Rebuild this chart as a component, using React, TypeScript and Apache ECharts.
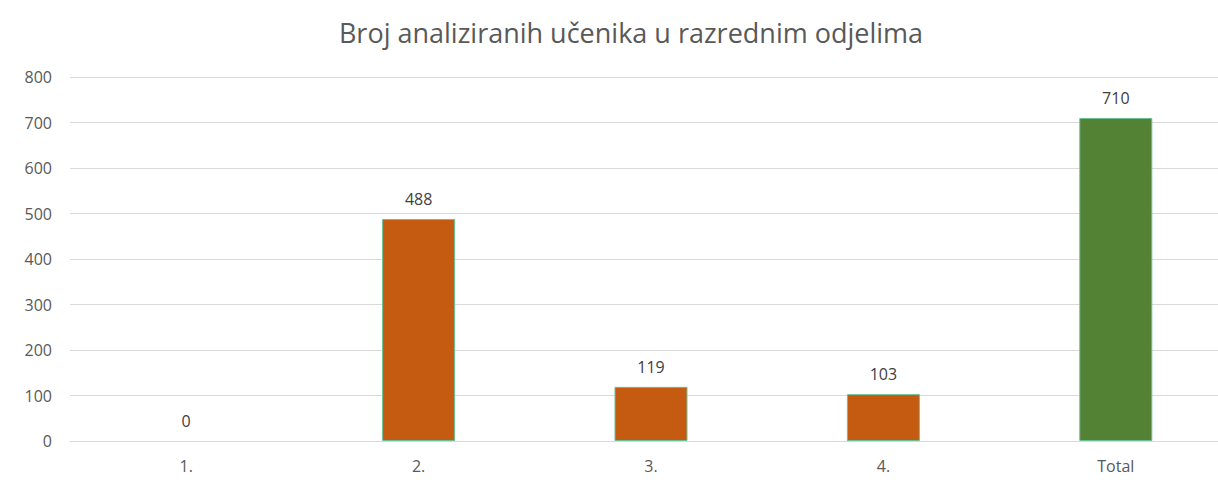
import React, { useEffect, useRef } from "react";
import * as echarts from "echarts";

const categories = ["1.", "2.", "3.", "4.", "Total"];
const values = [0, 488, 119, 103, 710];
const barColors = ["#C55A11", "#C55A11", "#C55A11", "#C55A11", "#548235"];
const yTicks = { min: 0, max: 800, interval: 100 };
const titleText = "Broj analiziranih učenika u razrednim odjelima";

export default function App() {
  const ref = useRef<HTMLDivElement>(null);
  useEffect(() => {
    if (!ref.current) return;
    const chart = echarts.init(ref.current, undefined, { renderer: "svg" });
    chart.setOption({
      animation: false,
      backgroundColor: "#ffffff",
      title: {
        text: titleText,
        left: 626,
        textAlign: "center",
        top: 14,
        textStyle: {
          fontFamily: "Open Sans",
          fontSize: 27,
          fontWeight: "normal",
          color: "#595959",
        },
      },
      grid: { left: 70, right: 0, top: 77, bottom: 46, containLabel: false },
      xAxis: {
        type: "category",
        data: categories,
        axisLine: { lineStyle: { color: "#d9d9d9" } },
        axisTick: { show: false },
        axisLabel: {
          color: "#595959",
          fontFamily: "Open Sans",
          fontSize: 16,
          margin: 17,
        },
      },
      yAxis: {
        type: "value",
        min: yTicks.min,
        max: yTicks.max,
        interval: yTicks.interval,
        axisLine: { show: false },
        axisTick: { show: false },
        splitLine: { lineStyle: { color: "#d9d9d9" } },
        axisLabel: {
          color: "#595959",
          fontFamily: "Open Sans",
          fontSize: 16,
          margin: 18,
        },
      },
      series: [
        {
          type: "bar",
          data: values.map((v, i) => ({
            value: v,
            itemStyle: {
              color: barColors[i],
              borderWidth: v === 0 ? 0 : 1,
            },
          })),
          barWidth: 73,
          itemStyle: { borderColor: "#6bbf95", borderWidth: 1 },
          label: {
            show: true,
            position: "top",
            distance: 12,
            color: "#404040",
            fontFamily: "Open Sans",
            fontSize: 16,
          },
        },
      ],
    });
    return () => chart.dispose();
  }, []);
  return (
    <div style={{ position: "absolute", left: 0, top: 0, width: 1218, height: 487, overflow: "hidden", background: "#fff" }}>
      <div ref={ref} style={{ width: 1232, height: 487 }} />
    </div>
  );
}
